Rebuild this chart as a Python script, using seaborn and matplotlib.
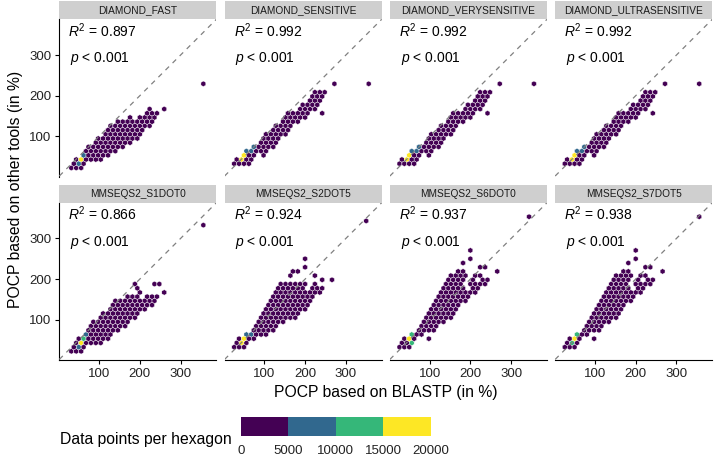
import numpy as np
import pandas as pd
import matplotlib
matplotlib.use('Agg')
import matplotlib.pyplot as plt
import seaborn as sns
from matplotlib.colors import ListedColormap, BoundaryNorm
from matplotlib.cm import ScalarMappable
from matplotlib.patches import Rectangle

sns.set_theme(style='white')
plt.rcParams['font.family'] = ['Liberation Sans', 'DejaVu Sans']
plt.rcParams['mathtext.fontset'] = 'custom'
plt.rcParams['mathtext.rm'] = 'Liberation Sans'
plt.rcParams['mathtext.it'] = 'Liberation Sans:italic'

# --- data ---
tools = ['DIAMOND_FAST', 'DIAMOND_SENSITIVE', 'DIAMOND_VERYSENSITIVE', 'DIAMOND_ULTRASENSITIVE',
         'MMSEQS2_S1DOT0', 'MMSEQS2_S2DOT5', 'MMSEQS2_S6DOT0', 'MMSEQS2_S7DOT5']
r2_values = [0.897, 0.992, 0.992, 0.992, 0.866, 0.924, 0.937, 0.938]

# filled hexagon rows: (POCP other, BLASTP from, BLASTP to)
fast_rows = [(22, 32, 56), (33, 38, 62), (43, 44, 104), (53, 56, 116), (64, 68, 140),
             (74, 74, 152), (84, 86, 170), (95, 98, 188), (105, 110, 200), (115, 122, 212),
             (126, 128, 224), (136, 146, 230), (146, 174, 174), (146, 198, 242),
             (157, 222, 240), (167, 228, 228)]
sensitive_rows = [(33, 28, 58), (43, 34, 64), (53, 52, 80), (64, 70, 104), (74, 80, 116),
                  (84, 86, 128), (95, 98, 134), (105, 104, 146), (115, 116, 158), (126, 122, 158),
                  (136, 140, 186), (146, 146, 198), (157, 158, 210), (167, 186, 222),
                  (177, 192, 228), (188, 210, 234), (198, 216, 240), (208, 222, 246)]
s1_rows = [(23, 32, 56), (33, 38, 62), (43, 44, 104), (53, 50, 120), (64, 62, 126),
           (74, 74, 146), (84, 80, 158), (95, 86, 170), (105, 98, 186), (115, 110, 198),
           (126, 122, 222), (136, 128, 240), (146, 134, 198), (146, 218, 246),
           (157, 166, 194), (157, 218, 242), (167, 206, 206), (177, 190, 190),
           (188, 184, 184), (188, 232, 244)]
s2_rows = [(33, 28, 52), (43, 34, 58), (53, 40, 80), (64, 58, 104), (74, 70, 122),
           (84, 76, 128), (95, 80, 146), (105, 86, 172), (115, 98, 186), (126, 104, 198),
           (136, 110, 208), (146, 116, 214), (157, 122, 220), (167, 128, 182), (167, 198, 234),
           (177, 134, 202), (177, 216, 240), (188, 140, 202), (188, 222, 222),
           (198, 240, 240), (198, 264, 264), (208, 168, 168), (208, 220, 220),
           (219, 170, 182), (229, 198, 198), (250, 198, 198)]
s6_rows = [(33, 28, 52), (43, 34, 58), (53, 40, 64), (64, 58, 80), (74, 70, 116),
           (84, 76, 122), (95, 80, 134), (105, 86, 146), (115, 92, 158), (126, 98, 168),
           (136, 104, 174), (146, 116, 186), (157, 122, 198), (167, 128, 214),
           (177, 134, 186), (177, 206, 218), (188, 140, 170), (188, 194, 194), (188, 218, 238),
           (198, 146, 186), (198, 206, 206), (198, 230, 242), (208, 152, 186), (208, 214, 226),
           (219, 174, 182), (219, 264, 264), (229, 220, 234), (240, 180, 180),
           (250, 199, 199), (270, 199, 199)]

band_rows = {'DIAMOND_FAST': fast_rows, 'DIAMOND_SENSITIVE': sensitive_rows,
             'DIAMOND_VERYSENSITIVE': sensitive_rows, 'DIAMOND_ULTRASENSITIVE': sensitive_rows,
             'MMSEQS2_S1DOT0': s1_rows, 'MMSEQS2_S2DOT5': s2_rows,
             'MMSEQS2_S6DOT0': s6_rows, 'MMSEQS2_S7DOT5': s6_rows}

# single hexagons away from the band: (BLASTP, other)
outliers = {'DIAMOND_FAST': [(264, 165), (358, 225)],
            'DIAMOND_SENSITIVE': [(100, 53), (238, 156), (269, 226), (356, 236)],
            'DIAMOND_VERYSENSITIVE': [(100, 53), (238, 156), (269, 226), (356, 236)],
            'DIAMOND_ULTRASENSITIVE': [(100, 53), (238, 156), (269, 226), (356, 236)],
            'MMSEQS2_S1DOT0': [(264, 166), (357, 329)],
            'MMSEQS2_S2DOT5': [(356, 340)],
            'MMSEQS2_S6DOT0': [(100, 54), (350, 351)],
            'MMSEQS2_S7DOT5': [(100, 54), (352, 351)]}

# densely populated hexagons: (BLASTP, other, points)
hot_cells = {'DIAMOND_FAST': [(50, 33, 7000), (56, 43, 17000), (62, 53, 7000)],
             'DIAMOND_SENSITIVE': [(47, 43, 17000), (53, 53, 17000), (59, 64, 7000), (71, 64, 7000), (77, 74, 7000)],
             'DIAMOND_VERYSENSITIVE': [(47, 43, 17000), (53, 53, 17000), (59, 64, 7000), (71, 64, 7000), (77, 74, 7000)],
             'DIAMOND_ULTRASENSITIVE': [(47, 43, 17000), (53, 53, 17000), (59, 64, 7000), (71, 64, 7000), (77, 74, 7000)],
             'MMSEQS2_S1DOT0': [(50, 33, 7000), (56, 43, 17000), (62, 53, 12000), (68, 64, 7000)],
             'MMSEQS2_S2DOT5': [(44, 43, 17000), (50, 53, 17000), (57, 64, 7000), (69, 64, 7000)],
             'MMSEQS2_S6DOT0': [(50, 43, 12000), (55, 54, 17000), (59, 64, 12000)],
             'MMSEQS2_S7DOT5': [(49, 44, 12000), (55, 55, 17000), (61, 64, 12000)]}

count_bounds = [0, 5000, 10000, 15000, 20000]
bin_colors = ['#440154', '#31688E', '#35B779', '#FDE725']

# --- long table, one record per hexagon row segment ---
records = []
for tool in tools:
    for y, x0, x1 in band_rows[tool]:
        for x in np.arange(x0, x1 + 1, 6):
            records.append((tool, x, y, 30))
    for x, y in outliers[tool]:
        records.append((tool, x, y, 1))
    for x, y, n in hot_cells[tool]:
        records.append((tool, x, y, n))
df = pd.DataFrame(records, columns=['tool', 'blastp', 'other', 'n'])

hex_cmap = ListedColormap(bin_colors)
hex_norm = BoundaryNorm(count_bounds, hex_cmap.N)


def hex_panel(data, color=None, **kws):
    ax = plt.gca()
    ax.hexbin(data['blastp'], data['other'], C=data['n'], reduce_C_function=np.sum,
              gridsize=(31, 19), extent=(8, 380, 1.6, 394.9), mincnt=1,
              cmap=hex_cmap, norm=hex_norm, edgecolors='white', linewidths=0.3)
    ax.axline((0, 0), slope=1, color='#808080', lw=0.9, ls=(0, (4, 4)), zorder=3)


g = sns.FacetGrid(df, col='tool', col_wrap=4, col_order=tools, height=2.0, aspect=1.0,
                  sharex=True, sharey=True, despine=False)
g.map_dataframe(hex_panel)
g.set_titles('')
g.set_axis_labels('', '')

fig = g.figure
fig.set_size_inches(7.16, 4.62)
fig.subplots_adjust(left=0.0828, right=0.9948, top=0.9582, bottom=0.2208,
                    wspace=0.052, hspace=0.166)

strip_h = 18 / 157.3
for i, (ax, tool) in enumerate(zip(g.axes.flat, tools)):
    r, c = divmod(i, 4)
    ax.set_xlim(2.4, 388)
    ax.set_ylim(1, 388)
    ax.set_xticks([100, 200, 300])
    ax.set_yticks([100, 200, 300])
    for side in ['top', 'right']:
        ax.spines[side].set_visible(False)
    ax.spines['left'].set_visible(c == 0)
    ax.spines['bottom'].set_visible(r == 1)
    for side in ['left', 'bottom']:
        ax.spines[side].set_color('black')
        ax.spines[side].set_linewidth(0.8)
    ax.tick_params(axis='y', left=(c == 0), labelleft=(c == 0), length=3, width=0.8,
                   color='black', labelsize=9.5, labelcolor='#222222', pad=2.5)
    ax.tick_params(axis='x', bottom=(r == 1), labelbottom=(r == 1), length=3, width=0.8,
                   color='black', labelsize=9.5, labelcolor='#222222', pad=2.5)
    ax.grid(False)
    # facet strip
    ax.add_patch(Rectangle((0, 1), 1, strip_h, transform=ax.transAxes, facecolor='#cfcfcf',
                           edgecolor='none', clip_on=False))
    ax.text(0.5, 1 + strip_h / 2, tool, transform=ax.transAxes, ha='center', va='center',
            fontsize=7.3, color='#1a1a1a')
    ax.text(0.057, 0.889, r'$R^2$ = %.3f' % r2_values[i], transform=ax.transAxes,
            ha='left', va='baseline', fontsize=10, color='black')
    ax.text(0.068, 0.727, r'$p$ < 0.001', transform=ax.transAxes,
            ha='left', va='baseline', fontsize=10, color='black')

fig.text(386 / 716, 1 - 397 / 462, 'POCP based on BLASTP (in %)', ha='center', va='baseline',
         fontsize=11.3, color='black')
fig.text(15.5 / 716, 1 - 189.5 / 462, 'POCP based on other tools (in %)', ha='center',
         va='center', rotation=90, fontsize=11.3, color='black')

# binned colour legend
cax = fig.add_axes([240.7 / 716, 1 - 435.7 / 462, 190 / 716, 19 / 462])
sm = ScalarMappable(norm=hex_norm, cmap=hex_cmap)
cb = fig.colorbar(sm, cax=cax, orientation='horizontal', ticks=count_bounds)
cb.outline.set_visible(False)
cax.tick_params(length=0, labelsize=9.5, pad=6.5, labelcolor='#222222')
fig.text(232 / 716, 1 - 444 / 462, 'Data points per hexagon', ha='right', va='baseline',
         fontsize=11.3, color='black')

fig.savefig('out.png', dpi=100)
